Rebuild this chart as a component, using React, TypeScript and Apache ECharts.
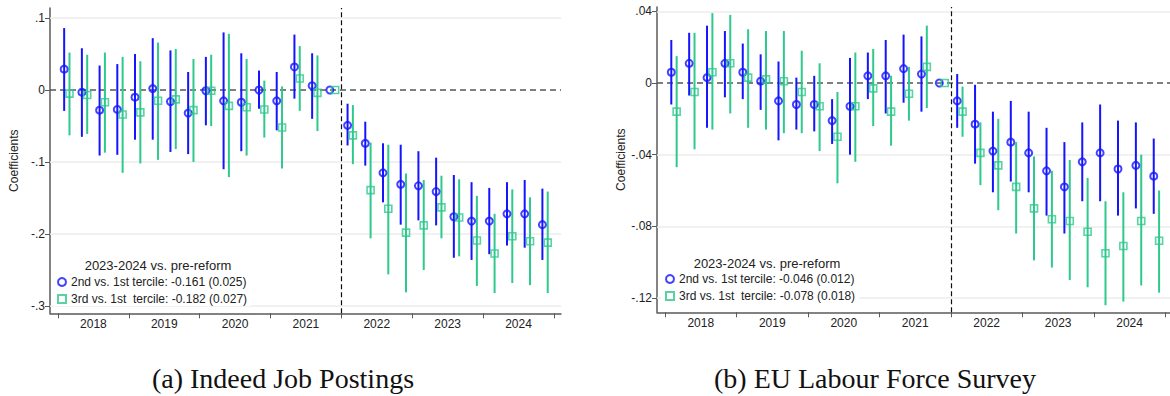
import React, { useEffect, useRef } from "react";
import * as echarts from "echarts";

// ---------- data ----------
const years = ["2018", "2019", "2020", "2021", "2022", "2023", "2024"];
const reformQuarter = 16; // 2022Q1 boundary (quarters since 2018Q1)

const yTicksA = [0.1, 0, -0.1, -0.2, -0.3];
const yLabelsA = [".1", "0", "-.1", "-.2", "-.3"];
const yTicksB = [0.04, 0, -0.04, -0.08, -0.12];
const yLabelsB = [".04", "0", "-.04", "-.08", "-.12"];

// Panel (a) Indeed Job Postings
const a2Est = [0.029, -0.003, -0.028, -0.027, -0.010, 0.002, -0.016, -0.032, -0.001, -0.015, -0.017, 0.000, -0.015, 0.032, 0.006, 0, -0.049, -0.074, -0.115, -0.131, -0.133, -0.141, -0.176, -0.182, -0.182, -0.172, -0.172, -0.187];
const a2Lo = [-0.029, -0.065, -0.091, -0.090, -0.069, -0.069, -0.086, -0.089, -0.049, -0.110, -0.085, -0.026, -0.056, -0.012, -0.040, null, -0.077, -0.105, -0.156, -0.187, -0.181, -0.188, -0.233, -0.236, -0.228, -0.216, -0.219, -0.236];
const a2Hi = [0.086, 0.058, 0.034, 0.036, 0.050, 0.072, 0.055, 0.025, 0.046, 0.080, 0.051, 0.027, 0.025, 0.077, 0.051, null, -0.019, -0.044, -0.074, -0.076, -0.085, -0.094, -0.118, -0.128, -0.136, -0.128, -0.125, -0.137];
const a3Est = [-0.005, -0.007, -0.017, -0.034, -0.031, -0.015, -0.013, -0.028, -0.001, -0.022, -0.024, -0.027, -0.052, 0.016, -0.004, 0, -0.063, -0.139, -0.165, -0.198, -0.188, -0.163, -0.177, -0.209, -0.227, -0.203, -0.210, -0.212];
const a3Lo = [-0.063, -0.061, -0.087, -0.115, -0.102, -0.097, -0.082, -0.100, -0.050, -0.121, -0.091, -0.066, -0.109, -0.029, -0.057, null, -0.103, -0.206, -0.256, -0.281, -0.250, -0.206, -0.231, -0.272, -0.282, -0.268, -0.271, -0.282];
const a3Hi = [0.052, 0.049, 0.052, 0.046, 0.040, 0.066, 0.057, 0.043, 0.049, 0.078, 0.043, 0.013, 0.005, 0.061, 0.048, null, -0.021, -0.073, -0.076, -0.116, -0.125, -0.119, -0.124, -0.147, -0.172, -0.138, -0.149, -0.141];

// Panel (b) EU Labour Force Survey
const b2Est = [0.006, 0.011, 0.003, 0.011, 0.006, 0.001, -0.010, -0.012, -0.012, -0.021, -0.013, 0.004, 0.004, 0.008, 0.005, 0, -0.010, -0.023, -0.038, -0.033, -0.039, -0.049, -0.058, -0.044, -0.039, -0.048, -0.046, -0.052];
const b2Lo = [-0.012, -0.007, -0.025, -0.008, -0.009, -0.015, -0.032, -0.026, -0.027, -0.034, -0.040, -0.009, -0.017, -0.011, -0.016, null, -0.025, -0.045, -0.061, -0.055, -0.061, -0.074, -0.084, -0.066, -0.066, -0.074, -0.070, -0.073];
const b2Hi = [0.024, 0.028, 0.032, 0.029, 0.022, 0.016, 0.012, 0.003, 0.004, -0.009, 0.014, 0.017, 0.024, 0.027, 0.026, null, 0.005, -0.001, -0.016, -0.010, -0.016, -0.025, -0.033, -0.022, -0.012, -0.021, -0.022, -0.031];
const b3Est = [-0.016, -0.005, 0.006, 0.011, 0.003, 0.002, 0.001, -0.005, -0.013, -0.030, -0.013, -0.003, -0.016, -0.006, 0.009, 0, -0.016, -0.039, -0.046, -0.058, -0.070, -0.076, -0.077, -0.083, -0.095, -0.091, -0.077, -0.088];
const b3Lo = [-0.047, -0.037, -0.026, -0.017, -0.025, -0.026, -0.028, -0.028, -0.038, -0.056, -0.044, -0.024, -0.035, -0.021, -0.014, null, -0.030, -0.057, -0.071, -0.084, -0.099, -0.103, -0.110, -0.114, -0.124, -0.122, -0.113, -0.117];
const b3Hi = [0.015, 0.028, 0.039, 0.038, 0.030, 0.029, 0.029, 0.018, 0.011, -0.005, 0.017, 0.019, 0.004, 0.009, 0.032, null, -0.002, -0.022, -0.020, -0.033, -0.041, -0.049, -0.043, -0.053, -0.066, -0.061, -0.040, -0.060];

const legendTitle = "2023-2024 vs. pre-reform";
const nameA2 = "2nd vs. 1st tercile: -0.161 (0.025)";
const nameA3 = "3rd vs. 1st  tercile: -0.182 (0.027)";
const nameB2 = "2nd vs. 1st tercile: -0.046 (0.012)";
const nameB3 = "3rd vs. 1st  tercile: -0.078 (0.018)";
const captionA = "(a) Indeed Job Postings";
const captionB = "(b) EU Labour Force Survey";

// ---------- styles ----------
const BLUE = "#1414ff";
const GREEN = "#2ec98d";
const AXIS = "#5a5a5a";
const TXT = "#222";
const FONT = "'Liberation Sans', Arial, sans-serif";
const SERIF = "'Liberation Serif', 'DejaVu Serif', serif";
const OFF = 0.15;

const yearTicks = years.map((_, i) => i * 4).concat([years.length * 4]);
const yearLabelPos = years.map((_, i) => i * 4 + 2);

function pts(est: number[], off: number) {
  return est.map((v, i) => [i + 0.5 + off, v]);
}
function cis(lo: (number | null)[], hi: (number | null)[], off: number) {
  const out: number[][] = [];
  lo.forEach((l, i) => {
    if (l != null && hi[i] != null) out.push([i + 0.5 + off, l, hi[i] as number]);
  });
  return out;
}
function errRender(color: string) {
  return (params: any, api: any) => {
    const p1 = api.coord([api.value(0), api.value(1)]);
    const p2 = api.coord([api.value(0), api.value(2)]);
    return {
      type: "line",
      shape: { x1: p1[0], y1: p1[1], x2: p2[0], y2: p2[1] },
      style: { stroke: color, lineWidth: 2 },
    };
  };
}

function xAxisCfg(gridIndex: number, max: number) {
  return {
    type: "value",
    gridIndex,
    min: -0.45,
    max,
    axisLine: { show: true, onZero: false, lineStyle: { color: AXIS, width: 1.5 } },
    axisTick: { show: true, customValues: yearTicks, length: 5, lineStyle: { color: AXIS, width: 1 } },
    axisLabel: {
      show: true,
      customValues: yearLabelPos,
      formatter: (v: number) => years[Math.round((v - 2) / 4)] ?? "",
      color: TXT,
      fontFamily: FONT,
      fontSize: 12,
      margin: 5,
    },
    splitLine: { show: false },
  };
}
function yAxisCfg(gridIndex: number, min: number, max: number, ticks: number[], labels: string[]) {
  return {
    type: "value",
    gridIndex,
    min,
    max,
    name: "Coefficients",
    nameLocation: "middle",
    nameRotate: 90,
    nameGap: 30,
    nameTextStyle: { color: TXT, fontFamily: FONT, fontSize: 12 },
    axisLine: { show: true, onZero: false, lineStyle: { color: AXIS, width: 1.5 } },
    axisTick: { show: true, customValues: ticks, length: 5, lineStyle: { color: AXIS, width: 1 } },
    axisLabel: {
      show: true,
      customValues: ticks,
      formatter: (v: number) => {
        const k = ticks.findIndex((t) => Math.abs(t - v) < 1e-9);
        return k >= 0 ? labels[k] : "";
      },
      color: TXT,
      fontFamily: FONT,
      fontSize: 12,
      margin: 5,
    },
    splitLine: { show: false },
  };
}

function refLines(idx: number, ticks: number[]) {
  return {
    type: "scatter",
    xAxisIndex: idx,
    yAxisIndex: idx,
    data: [],
    z: 1,
    silent: true,
    markLine: {
      z: 1,
      silent: true,
      symbol: ["none", "none"],
      label: { show: false },
      animation: false,
      data: [
        ...ticks.filter((t) => t !== 0).map((t) => ({ yAxis: t, lineStyle: { color: "#ececec", width: 1.5, type: "solid" } })),
        { yAxis: 0, lineStyle: { color: "#555", width: 1.5, type: [6, 4] } },
        { xAxis: reformQuarter, lineStyle: { color: "#111", width: 1.2, type: [5, 3] } },
      ],
    },
  };
}

function panelSeries(idx: number, n2: string, n3: string, e2: number[], l2: any[], h2: any[], e3: number[], l3: any[], h3: any[]) {
  return [
    {
      type: "custom",
      name: "ci2-" + idx,
      xAxisIndex: idx,
      yAxisIndex: idx,
      renderItem: errRender(BLUE),
      encode: { x: 0, y: [1, 2] },
      data: cis(l2, h2, -OFF),
      z: 2,
      silent: true,
    },
    {
      type: "custom",
      name: "ci3-" + idx,
      xAxisIndex: idx,
      yAxisIndex: idx,
      renderItem: errRender(GREEN),
      encode: { x: 0, y: [1, 2] },
      data: cis(l3, h3, OFF),
      z: 2,
      silent: true,
    },
    {
      type: "scatter",
      name: n2,
      xAxisIndex: idx,
      yAxisIndex: idx,
      symbol: "circle",
      symbolSize: 7,
      itemStyle: { color: "rgba(255,255,255,0)", borderColor: BLUE, borderWidth: 2 },
      data: pts(e2, -OFF),
      z: 3,
    },
    {
      type: "scatter",
      name: n3,
      xAxisIndex: idx,
      yAxisIndex: idx,
      symbol: "rect",
      symbolSize: 7,
      itemStyle: { color: "rgba(255,255,255,0)", borderColor: GREEN, borderWidth: 1.6 },
      data: pts(e3, OFF),
      z: 3,
    },
  ];
}

function legendCfg(left: number, top: number, names: string[]) {
  return {
    show: true,
    z: 10,
    orient: "vertical",
    left,
    top,
    itemWidth: 8,
    itemHeight: 8,
    itemGap: 3,
    padding: [1, 4, 0, 4],
    backgroundColor: "#fff",
    selectedMode: false,
    data: names,
    textStyle: { color: TXT, fontFamily: FONT, fontSize: 12, lineHeight: 14 },
  };
}

export default function App() {
  const ref = useRef<HTMLDivElement>(null);
  useEffect(() => {
    const chart = echarts.init(ref.current!, null, { renderer: "svg" });
    const option: any = {
      animation: false,
      backgroundColor: "#fff",
      grid: [
        { left: 50, top: 8, width: 511, height: 305.3 },
        { left: 657, top: 7, width: 513, height: 305.3 },
      ],
      xAxis: [xAxisCfg(0, 28.4), xAxisCfg(1, 28.26)],
      yAxis: [
        yAxisCfg(0, -0.3101, 0.1139, yTicksA, yLabelsA),
        yAxisCfg(1, -0.12797, 0.04241, yTicksB, yLabelsB),
      ],
      legend: [legendCfg(53, 274, [nameA2, nameA3]), legendCfg(661, 271, [nameB2, nameB3])],
      graphic: [
        { type: "text", z: 11, x: 158, y: 265, style: { text: legendTitle, fill: TXT, font: `13px ${FONT}`, textAlign: "center", textVerticalAlign: "middle" } },
        { type: "text", z: 11, x: 767, y: 263, style: { text: legendTitle, fill: TXT, font: `13px ${FONT}`, textAlign: "center", textVerticalAlign: "middle" } },
        { type: "text", x: 283, y: 378, style: { text: captionA, fill: "#111", font: `28px ${SERIF}`, textAlign: "center", textVerticalAlign: "middle" } },
        { type: "text", x: 875, y: 378, style: { text: captionB, fill: "#111", font: `28px ${SERIF}`, textAlign: "center", textVerticalAlign: "middle" } },
      ],
      series: [
        refLines(0, yTicksA),
        refLines(1, yTicksB),
        ...panelSeries(0, nameA2, nameA3, a2Est, a2Lo, a2Hi, a3Est, a3Lo, a3Hi),
        ...panelSeries(1, nameB2, nameB3, b2Est, b2Lo, b2Hi, b3Est, b3Lo, b3Hi),
      ],
    };
    chart.setOption(option);
    return () => chart.dispose();
  }, []);
  return (
    <div
      ref={ref}
      style={{ position: "absolute", left: 0, top: 0, width: 1170, height: 396, background: "#fff" }}
    />
  );
}
